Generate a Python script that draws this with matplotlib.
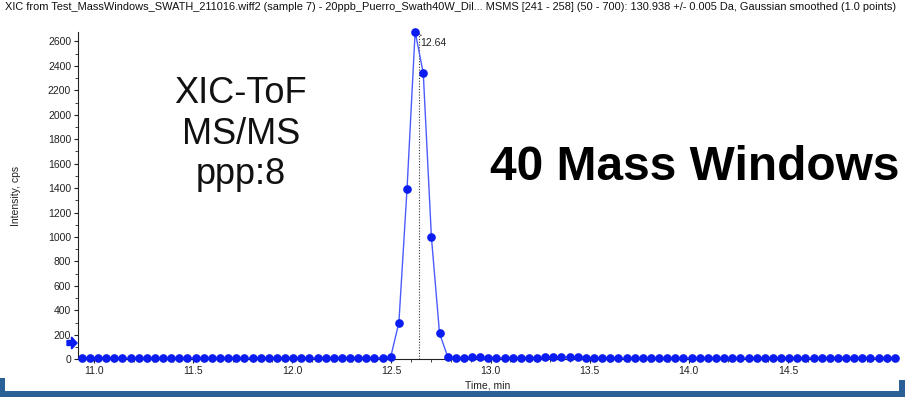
import numpy as np
import matplotlib
matplotlib.use("Agg")
import matplotlib.pyplot as plt
from matplotlib.ticker import MultipleLocator, FormatStrFormatter
from matplotlib.patches import FancyArrow, Rectangle

plt.rcParams['font.family'] = ['Liberation Sans', 'DejaVu Sans']

# Scan times (min), one cycle every 0.041 min
t_start = 10.939
t_step = 0.041
n_scans = 101
times = t_start + t_step * np.arange(n_scans)

# Intensity (cps) per scan
intensity = [
    10, 10, 10, 10, 10, 10, 10, 10, 10, 10,
    10, 10, 10, 10, 10, 10, 10, 10, 10, 10,
    10, 10, 10, 10, 10, 10, 10, 10, 10, 10,
    10, 10, 10, 10, 10, 10, 10, 10, 20, 300,
    1390, 2680, 2340, 1000, 212, 22, 12, 12, 18, 18,
    12, 10, 10, 10, 10, 10, 12, 16, 20, 20,
    16, 20, 14, 10, 10, 10, 10, 10, 10, 10,
    10, 10, 10, 10, 10, 10, 10, 10, 10, 10,
    10, 10, 10, 10, 10, 10, 10, 10, 10, 10,
    10, 10, 10, 10, 10, 10, 10, 10, 10, 10,
    10,
]

apex_time = 12.64
x_ticks = [11.0, 11.5, 12.0, 12.5, 13.0, 13.5, 14.0, 14.5]
y_ticks = list(range(0, 2601, 200))

title = ("XIC from Test_MassWindows_SWATH_211016.wiff2 (sample 7) - 20ppb_Puerro_Swath40W_Dil... "
         "MSMS [241 - 258] (50 - 700): 130.938 +/- 0.005 Da, Gaussian smoothed (1.0 points)")

fig = plt.figure(figsize=(9.05, 3.97), dpi=100)
ax = fig.add_axes([0.0862, 0.0950, 0.9061, 0.8252])

top = int(np.argmax(intensity))
ax.plot(times, intensity, color='#4a5cff', lw=1.0, zorder=3)
ax.plot(times, intensity, ls='none', marker='o', ms=5.2, color='#0a1cf0', zorder=4, clip_on=False)

ax.axvline(apex_time, color='#333333', lw=0.8, ls=(0, (1, 1.5)), zorder=2)
ax.annotate(f"{apex_time:.2f}", xy=(times[top], intensity[top]), xytext=(apex_time + 0.008, 2585),
            fontsize=7.5, color='#222222', ha='left', va='center',
            arrowprops=dict(arrowstyle='-', ls=':', color='#222222', lw=0.7,
                            shrinkA=0, shrinkB=2))

ax.set_xlim(10.92, 15.055)
ax.set_ylim(0, 2680)
ax.set_xticks(x_ticks)
ax.xaxis.set_major_formatter(FormatStrFormatter('%.1f'))
ax.xaxis.set_minor_locator(MultipleLocator(0.1))
ax.set_yticks(y_ticks)
ax.yaxis.set_minor_locator(MultipleLocator(100))
ax.tick_params(axis='both', which='major', direction='out', length=3, width=0.8,
               labelsize=7.5, colors='#222222', pad=2)
ax.tick_params(axis='both', which='minor', direction='out', length=2, width=0.6, colors='#222222')
for side in ('top', 'right'):
    ax.spines[side].set_visible(False)
ax.spines['left'].set_color('#222222')
ax.spines['bottom'].set_color('#222222')

ax.set_xlabel("Time, min", fontsize=7.5, color='#222222', labelpad=3)
ax.set_ylabel("Intensity, cps", fontsize=7.5, color='#222222', labelpad=19)

fig.text(0.006, 0.982, title, fontsize=7.9, color='#111111', ha='left', va='center')

fig.text(0.266, 0.662, "XIC-ToF\nMS/MS\nppp:8", fontsize=26, ha='center', va='center',
         linespacing=1.2, color='#111111')
fig.text(0.768, 0.578, "40 Mass Windows", fontsize=34.5, fontweight='bold', ha='center',
         va='center', color='#000000')

# marker arrow on the intensity axis
fig.add_artist(FancyArrow(0.67, 0.54, 0.10, 0, width=0.05, head_width=0.12, head_length=0.055,
                          length_includes_head=True, transform=fig.dpi_scale_trans,
                          color='#0a1cf0', clip_on=False))

# frame band along the bottom edge
band = '#2a6096'
fig.add_artist(Rectangle((0, 0), 1, 6 / 397, transform=fig.transFigure, color=band, lw=0))
fig.add_artist(Rectangle((0, 0), 5 / 905, 19 / 397, transform=fig.transFigure, color=band, lw=0))
fig.add_artist(Rectangle((899 / 905, 0), 6 / 905, 17 / 397, transform=fig.transFigure, color=band, lw=0))

fig.savefig("out.png", dpi=100)
